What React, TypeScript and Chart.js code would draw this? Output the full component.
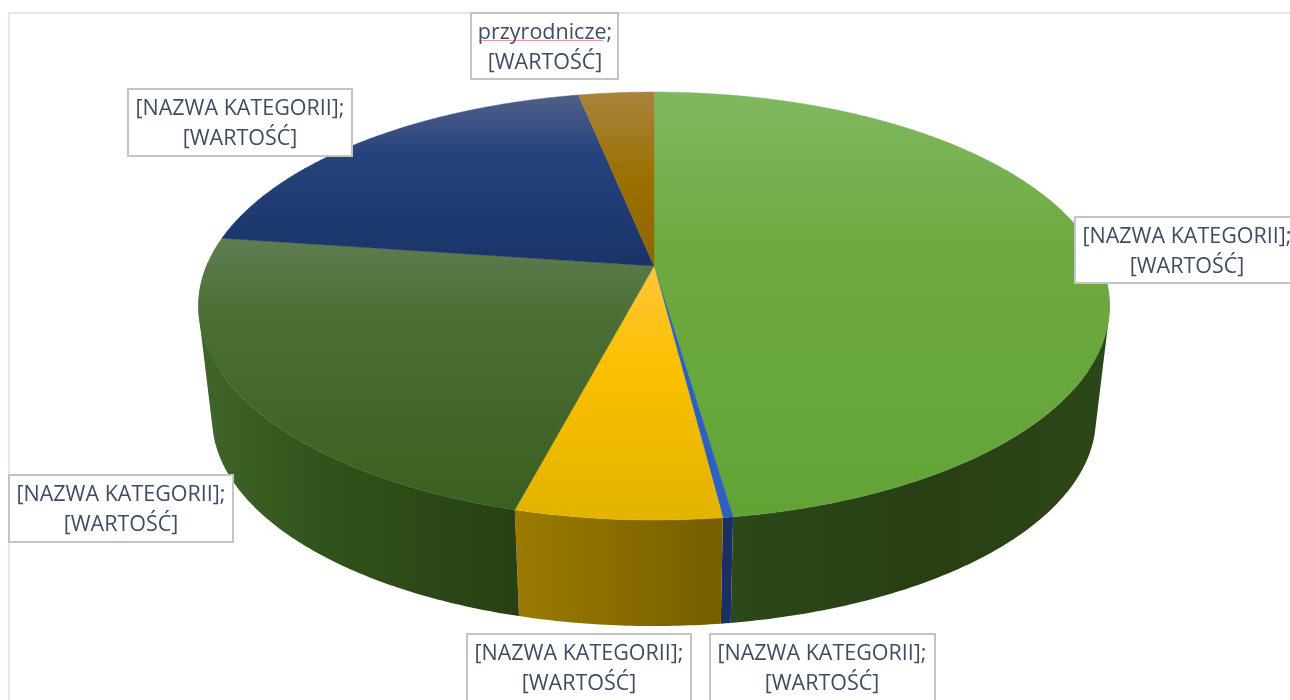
import React, { useEffect, useRef } from "react";
import { Chart, registerables } from "chart.js";

Chart.register(...registerables);

// ---- data ----
const categories = [
  "[NAZWA KATEGORII]",
  "[NAZWA KATEGORII]",
  "[NAZWA KATEGORII]",
  "[NAZWA KATEGORII]",
  "[NAZWA KATEGORII]",
  "przyrodnicze",
];
const valueLabel = "[WARTOŚĆ]";
const sliceValues = [47.7, 0.3, 6.1, 23.1, 19.6, 3.2];

// ---- styles ----
const baseColors = ["#6aa83c", "#2e60c0", "#f5bd00", "#46692c", "#21407a", "#9a7000"];
const topStops: [number, string][][] = [
  [[0, "#80b861"], [0.35, "#6dab42"], [1, "#63a336"]],
  [[0, "#2e60c0"], [1, "#2e60c0"]],
  [[0, "#ffc63a"], [0.4, "#fac000"], [1, "#e2b300"]],
  [[0, "#5f7d50"], [0.3, "#4c6e34"], [1, "#3a5f20"]],
  [[0, "#4f6089"], [0.35, "#25427c"], [1, "#1a3468"]],
  [[0, "#a9843f"], [0.5, "#9a7000"], [1, "#8f6600"]],
];
const wallStops: [number, string][][] = [
  [[0, "#2c4919"], [0.5, "#283f14"], [1, "#2c4718"]],
  [[0, "#1b3060"], [1, "#1b3060"]],
  [[0, "#9b7b00"], [1, "#765e00"]],
  [[0, "#40652a"], [0.4, "#31521a"], [1, "#284014"]],
  [[0, "#12244a"], [1, "#12244a"]],
  [[0, "#6b4e00"], [1, "#6b4e00"]],
];
const labelBoxes = [
  { x: 1075, y: 217, w: 230, h: 66, textX: 1187 },
  { x: 710, y: 634, w: 225, h: 70, textX: 822 },
  { x: 467, y: 634, w: 224, h: 70, textX: 579 },
  { x: 9, y: 475, w: 224, h: 67, textX: 121 },
  { x: 128, y: 89, w: 224, h: 67, textX: 240 },
  { x: 471, y: 13, w: 147, h: 66, textX: 545 },
];

// ---- projection of the pie's disc ----
const apexX = 654;
const apexY = 266;
const perspK = -0.187;
const perspA = 206.5;
const perspB = 447.5;
const discMidY = 305;
const lowerScale = 0.97;
const lowerMidY = 417.5;

type P = [number, number];
const topPoint = (angle: number): P => {
  const c = Math.cos(angle), s = Math.sin(angle);
  const w = 1 + perspK * s;
  return [apexX + (perspB * c) / w, apexY + (perspA * s) / w];
};
const lowerPoint = (p: P): P => [
  apexX + lowerScale * (p[0] - apexX),
  lowerMidY + lowerScale * (p[1] - discMidY),
];
const arcAngles = (a0: number, a1: number): number[] => {
  const n = Math.max(2, Math.ceil((a1 - a0) / 0.01));
  const out: number[] = [];
  for (let i = 0; i <= n; i++) out.push(a0 + ((a1 - a0) * i) / n);
  return out;
};
const gradient = (
  ctx: CanvasRenderingContext2D,
  x0: number, y0: number, x1: number, y1: number,
  stops: [number, string][],
) => {
  const g = ctx.createLinearGradient(x0, y0, x1, y1);
  stops.forEach(([o, c]) => g.addColorStop(o, c));
  return g;
};
const addPoly = (ctx: CanvasRenderingContext2D, pts: P[]) => {
  pts.forEach((p, i) => (i ? ctx.lineTo(p[0], p[1]) : ctx.moveTo(p[0], p[1])));
  ctx.closePath();
};
const signedArea = (pts: P[]) =>
  pts.reduce((s, p, i) => {
    const q = pts[(i + 1) % pts.length];
    return s + p[0] * q[1] - q[0] * p[1];
  }, 0);

const perspectivePie = {
  id: "perspectivePie",
  beforeDraw(chart: any) {
    const ctx: CanvasRenderingContext2D = chart.ctx;
    ctx.save();
    ctx.fillStyle = "#ffffff";
    ctx.fillRect(0, 0, chart.width, chart.height);
    ctx.strokeStyle = "#e3e7ef";
    ctx.lineWidth = 2;
    ctx.beginPath();
    ctx.moveTo(9, chart.height);
    ctx.lineTo(9, 13);
    ctx.lineTo(chart.width, 13);
    ctx.stroke();
    ctx.restore();
  },
  beforeDatasetDraw(chart: any, args: any) {
    const ctx: CanvasRenderingContext2D = chart.ctx;
    const arcs: any[] = args.meta.data;
    ctx.save();
    // walls: only the part that faces the viewer, as one path per slice
    arcs.forEach((a, i) => {
      const angles = arcAngles(a.startAngle, a.endAngle).filter((t) => Math.sin(t) > -0.02);
      if (angles.length < 2) return;
      const top = angles.map(topPoint);
      const lower = top.map(lowerPoint);
      const xs = [...top, ...lower].map((p) => p[0]);
      ctx.fillStyle = gradient(ctx, Math.min(...xs), 0, Math.max(...xs), 0, wallStops[i]);
      ctx.beginPath();
      for (let j = 0; j + 1 < top.length; j++) {
        const quad: P[] = [top[j], top[j + 1], lower[j + 1], lower[j]];
        addPoly(ctx, signedArea(quad) < 0 ? quad.slice().reverse() : quad);
      }
      ctx.fill("nonzero");
    });
    // top surface
    arcs.forEach((a, i) => {
      const poly: P[] = [[apexX, apexY], ...arcAngles(a.startAngle, a.endAngle).map(topPoint)];
      const ys = poly.map((p) => p[1]);
      const g = gradient(ctx, 0, Math.min(...ys), 0, Math.max(...ys), topStops[i]);
      ctx.beginPath();
      addPoly(ctx, poly);
      ctx.fillStyle = g;
      ctx.strokeStyle = g;
      ctx.lineWidth = 0.5;
      ctx.fill();
      ctx.stroke();
    });
    ctx.restore();
    return false;
  },
  afterDatasetsDraw(chart: any) {
    const ctx: CanvasRenderingContext2D = chart.ctx;
    ctx.save();
    ctx.textAlign = "center";
    ctx.textBaseline = "alphabetic";
    categories.forEach((name, i) => {
      const b = labelBoxes[i];
      ctx.fillStyle = "#ffffff";
      ctx.fillRect(b.x, b.y, b.w, b.h);
      ctx.strokeStyle = "#c4c4c4";
      ctx.lineWidth = 2;
      ctx.strokeRect(b.x, b.y, b.w, b.h);
      if (name === "przyrodnicze") {
        ctx.strokeStyle = "#f0959e";
        ctx.lineWidth = 1;
        ctx.beginPath();
        ctx.moveTo(479, 40.5);
        ctx.lineTo(603, 40.5);
        ctx.stroke();
      }
      ctx.font = '21.5px "Open Sans"';
      ctx.fillStyle = "#3f4d63";
      ctx.fillText(name + ";", b.textX, b.y + 26);
      ctx.fillText(valueLabel, b.textX, b.y + 56);
    });
    ctx.restore();
  },
};

export default function App() {
  const ref = useRef<HTMLCanvasElement | null>(null);
  useEffect(() => {
    const chart = new Chart(ref.current as HTMLCanvasElement, {
      type: "pie",
      data: {
        labels: categories,
        datasets: [{ data: sliceValues, backgroundColor: baseColors, borderWidth: 0 }],
      },
      options: {
        animation: false,
        responsive: false,
        devicePixelRatio: 1,
        plugins: { legend: { display: false }, tooltip: { enabled: false } },
      },
      plugins: [perspectivePie],
    } as any);
    return () => chart.destroy();
  }, []);
  return (
    <div style={{ position: "fixed", left: 0, top: 0, width: 1290, height: 700, overflow: "hidden" }}>
      <canvas ref={ref} width={1290} height={700} style={{ display: "block" }} />
    </div>
  );
}
